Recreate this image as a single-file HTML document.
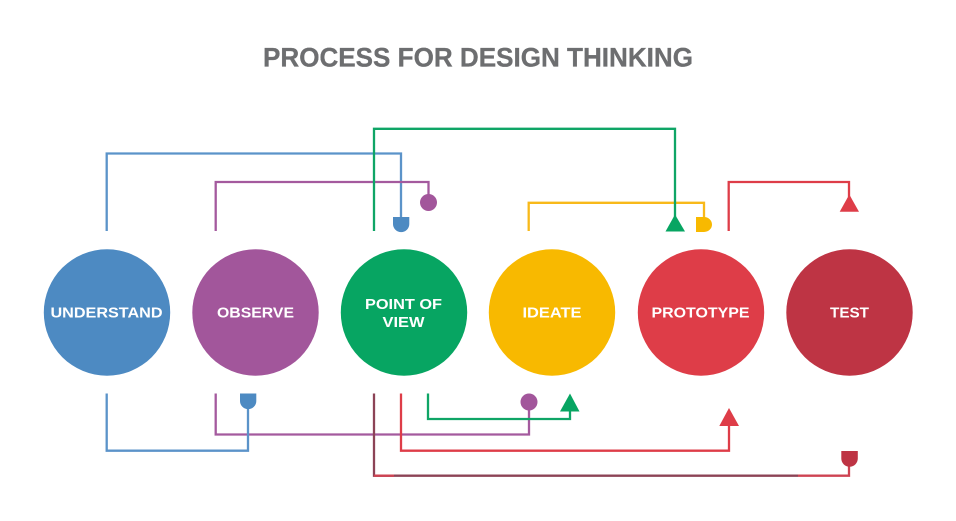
<!DOCTYPE html>
<html>
<head>
<meta charset="utf-8">
<style>
html,body{margin:0;padding:0;background:#fff;width:956px;height:521px;overflow:hidden}
svg{display:block}
text{font-family:"Liberation Sans",sans-serif;font-weight:700}
.l{fill:none;stroke-width:2.3;stroke-linejoin:miter}
.c{fill:#fff;font-size:15.2px;text-anchor:middle}
</style>
</head>
<body>
<svg width="956" height="521" viewBox="0 0 956 521" xmlns="http://www.w3.org/2000/svg">
<rect width="956" height="521" fill="#fff"/>
<text x="263" y="66.700" font-size="26.500" fill="#6d6e70" stroke="#6d6e70" stroke-width="0.300" textLength="430" lengthAdjust="spacingAndGlyphs">PROCESS FOR DESIGN THINKING</text>

<circle cx="107" cy="312.500" r="63.200" fill="#4d8ac2"/>
<circle cx="255.500" cy="312.500" r="63.200" fill="#a2569b"/>
<circle cx="404" cy="312.500" r="63.200" fill="#07a562"/>
<circle cx="552" cy="312.500" r="63.200" fill="#f8b900"/>
<circle cx="701" cy="312.500" r="63.200" fill="#de3d48"/>
<circle cx="849.500" cy="312.500" r="63.200" fill="#be3444"/>

<text class="c" x="106.500" y="317.700" textLength="112" lengthAdjust="spacingAndGlyphs">UNDERSTAND</text>
<text class="c" x="255.500" y="317.700" textLength="77" lengthAdjust="spacingAndGlyphs">OBSERVE</text>
<text class="c" x="403.500" y="309" textLength="77" lengthAdjust="spacingAndGlyphs">POINT OF</text>
<text class="c" x="403.500" y="327" textLength="42" lengthAdjust="spacingAndGlyphs">VIEW</text>
<text class="c" x="552" y="317.700" textLength="59" lengthAdjust="spacingAndGlyphs">IDEATE</text>
<text class="c" x="700.500" y="317.700" textLength="98" lengthAdjust="spacingAndGlyphs">PROTOTYPE</text>
<text class="c" x="849.500" y="317.700" textLength="39" lengthAdjust="spacingAndGlyphs">TEST</text>

<!-- top connectors -->
<path class="l" stroke="#5b93c9" d="M106.700 231V153.500H401V218"/>
<path class="l" stroke="#a45a9e" d="M215.700 231V182H428.500V195"/>
<path class="l" stroke="#f8b91a" d="M528.700 231V202.800H704V218"/>
<path class="l" stroke="#0fa566" d="M374 231V128.800H675V218"/>
<path class="l" stroke="#de3d48" d="M728.700 231V182H849V197"/>
<circle cx="428.500" cy="202.500" r="8.500" fill="#a2569b"/>
<path d="M393 217H409.300V224A8.150 8.150 0 0 1 393 224Z" fill="#4d8ac2"/>
<path d="M696 217H704A8 7.500 0 0 1 704 232H696Z" fill="#f8b900"/>
<path d="M675 214.500L685 231.500H665.500Z" fill="#07a562"/>
<path d="M849.300 194.500L859 211.800H839.700Z" fill="#de3d48"/>

<!-- bottom connectors -->
<path class="l" stroke="#a45a9e" d="M215.700 393.500V434.500H529V408"/>
<path class="l" stroke="#5b93c9" d="M106.700 393.500V450.700H248V405"/>
<path class="l" stroke="#0fa566" d="M428 393.500V419H570V408"/>
<path class="l" stroke="#de3d48" d="M401 393.500V450.700H729V422"/>
<path class="l" stroke="#8c4356" d="M374 393.500V475.700H798"/>
<path class="l" stroke="#ce4352" d="M374 475.700H394"/>
<path class="l" stroke="#ce4352" d="M798 475.700H849V463"/>
<path d="M240 393.500H256.300V401A8.150 8.150 0 0 1 240 401Z" fill="#4d8ac2"/>
<circle cx="529" cy="402" r="8.500" fill="#a2569b"/>
<path d="M570 393.500L579.500 411.500H560Z" fill="#07a562"/>
<path d="M729 408L739 426H719.300Z" fill="#de3d48"/>
<path d="M841.300 451H857.800V458.500A8.250 8.250 0 0 1 841.300 458.500Z" fill="#be3444"/>
</svg>
</body>
</html>
